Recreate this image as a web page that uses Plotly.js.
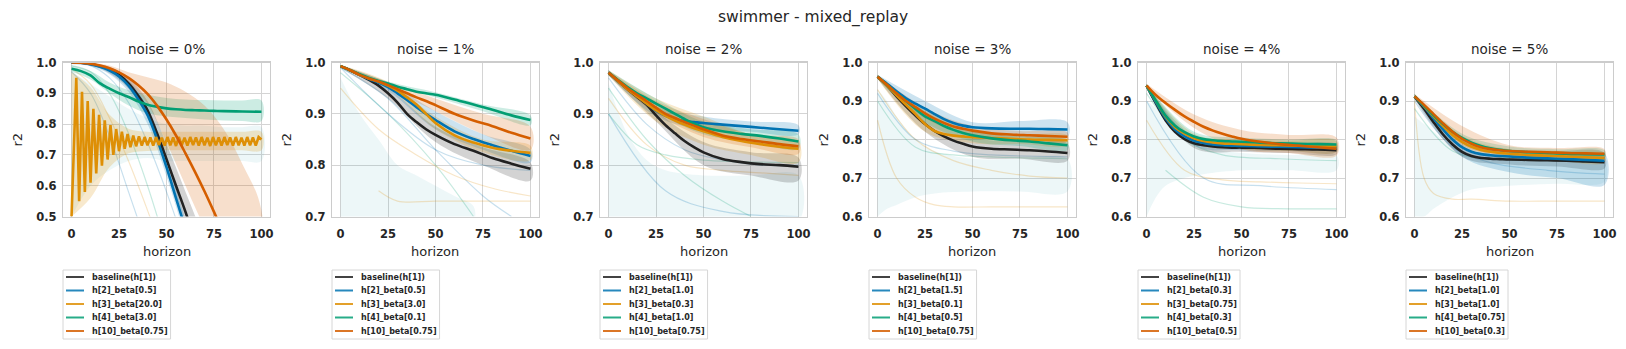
<!DOCTYPE html>
<html>
<head>
<meta charset="utf-8">
<script src="https://cdn.plot.ly/plotly-3.0.1.min.js"></script>
<style>
  html, body { margin: 0; padding: 0; background: #fff; }
  #chart { width: 1626px; height: 349px; }
</style>
</head>
<body>
<div id="chart"></div>
<script>
// swimmer - mixed_replay : r2 against horizon, one panel per noise level

const noiseLevels = [0, 1, 2, 3, 4, 5];
const xTicks = [0, 25, 50, 75, 100];

// ---- noise = 0% ----
const n0_labels = ['baseline(h[1])', 'h[2]_beta[0.5]', 'h[3]_beta[20.0]', 'h[4]_beta[3.0]', 'h[10]_beta[0.75]'];
const n0_x = [0, 5, 10, 15, 20, 25, 30, 35, 40, 45, 50, 55, 60, 65, 70, 75, 80, 90, 100];
const n0_baseline = [1.0, 0.999, 0.995, 0.988, 0.977, 0.96, 0.932, 0.893, 0.845, 0.77, 0.686, 0.6, 0.515, 0.42, 0.32, 0.21, 0.1, -0.15, -0.4];
const n0_h2 = [1.0, 0.999, 0.994, 0.986, 0.974, 0.955, 0.925, 0.882, 0.83, 0.752, 0.66, 0.56, 0.46, 0.36, 0.25, 0.14, 0.03, -0.2, -0.45];
const n0_h4 = [0.98, 0.972, 0.958, 0.932, 0.915, 0.9, 0.888, 0.874, 0.863, 0.856, 0.851, 0.848, 0.846, 0.845, 0.844, 0.843, 0.842, 0.841, 0.84];
const n0_h10 = [1.0, 0.999, 0.996, 0.99, 0.981, 0.968, 0.95, 0.927, 0.898, 0.86, 0.815, 0.763, 0.705, 0.645, 0.582, 0.515, 0.445, 0.3, 0.15];
// h3 oscillates, so it has its own horizon samples
const n0_h3x = [0, 2.5, 4, 5.5, 7, 8.5, 10, 11.5, 13, 14.5, 16, 17.5, 19, 20.5, 22, 23.5, 25, 26.5, 28, 29.5,
  31, 32.5, 34, 35.5, 37, 38.5, 40, 41.5, 43, 44.5, 46, 47.5, 49, 50.5, 52, 53.5, 55, 56.5, 58, 59.5,
  61, 62.5, 64, 65.5, 67, 68.5, 70, 71.5, 73, 74.5, 76, 77.5, 79, 80.5, 82, 83.5, 85, 86.5, 88, 89.5,
  91, 92.5, 94, 95.5, 97, 98.5, 100];
const n0_h3 = [0.50, 0.95, 0.55, 0.905, 0.58, 0.875, 0.61, 0.85, 0.64, 0.83, 0.665, 0.812, 0.685, 0.797, 0.70, 0.784, 0.712, 0.775, 0.72, 0.768,
  0.725, 0.763, 0.728, 0.76, 0.73, 0.758, 0.731, 0.757, 0.73, 0.758, 0.732, 0.756, 0.73, 0.758, 0.731, 0.757, 0.729, 0.758, 0.731, 0.756,
  0.73, 0.758, 0.732, 0.757, 0.73, 0.758, 0.731, 0.756, 0.729, 0.758, 0.731, 0.757, 0.73, 0.758, 0.732, 0.757, 0.73, 0.758, 0.731, 0.756,
  0.73, 0.758, 0.731, 0.757, 0.73, 0.758, 0.75];
const n0_bandX = [0, 10, 20, 30, 40, 50, 60, 70, 80, 90, 100];
const n0_low = [
  [0.995, 0.99, 0.965, 0.915, 0.82, 0.655, 0.48, 0.3, 0.1, -0.1, -0.3],
  [0.995, 0.988, 0.962, 0.905, 0.8, 0.63, 0.43, 0.22, 0.02, -0.2, -0.4],
  [0.5, 0.56, 0.66, 0.705, 0.713, 0.715, 0.715, 0.715, 0.715, 0.715, 0.715],
  [0.97, 0.945, 0.9, 0.86, 0.835, 0.825, 0.82, 0.815, 0.812, 0.81, 0.81],
  [0.998, 0.993, 0.975, 0.935, 0.865, 0.74, 0.6, 0.46, 0.3, 0.1, -0.1]];
const n0_high = [
  [1.0, 0.998, 0.985, 0.95, 0.875, 0.735, 0.58, 0.42, 0.22, 0.0, -0.2],
  [1.0, 0.997, 0.982, 0.942, 0.855, 0.69, 0.49, 0.28, 0.08, -0.15, -0.35],
  [0.97, 0.92, 0.83, 0.785, 0.775, 0.775, 0.775, 0.775, 0.775, 0.775, 0.775],
  [0.99, 0.972, 0.935, 0.91, 0.895, 0.885, 0.88, 0.878, 0.877, 0.877, 0.877],
  [1.0, 0.998, 0.99, 0.968, 0.952, 0.935, 0.905, 0.86, 0.785, 0.67, 0.52]];
const n0_hazeX = [0, 10, 20, 30, 40, 50, 60, 70, 80, 90, 100];
const n0_hazeLo = [0.5, 0.6, 0.65, 0.68, 0.69, 0.68, 0.68, 0.68, 0.68, 0.68, 0.68];
const n0_hazeHi = [0.97, 0.93, 0.89, 0.85, 0.82, 0.8, 0.795, 0.795, 0.79, 0.79, 0.79];
const n0_faintX = [[0, 10, 20, 30, 40, 50, 60], [0, 10, 20, 30, 40, 50], [0, 10, 20, 30, 40, 50], [0, 10, 20, 30, 40]];
const n0_faintY = [[1.0, 0.99, 0.95, 0.87, 0.74, 0.58, 0.4], [0.99, 0.97, 0.9, 0.77, 0.6, 0.4], [0.98, 0.93, 0.82, 0.68, 0.52, 0.35], [0.97, 0.9, 0.76, 0.58, 0.4]];
const n0_faintC = [1, 3, 2, 1];

// ---- noise = 1% ----
const n1_labels = ['baseline(h[1])', 'h[2]_beta[0.5]', 'h[3]_beta[3.0]', 'h[4]_beta[0.1]', 'h[10]_beta[0.75]'];
const n1_x = [0, 5, 10, 15, 20, 25, 30, 35, 40, 45, 50, 60, 70, 80, 90, 100];
const n1_baseline = [0.993, 0.985, 0.976, 0.966, 0.955, 0.94, 0.922, 0.9, 0.884, 0.87, 0.859, 0.841, 0.828, 0.814, 0.803, 0.793];
const n1_h2 = [0.993, 0.985, 0.976, 0.968, 0.961, 0.952, 0.94, 0.927, 0.913, 0.9, 0.888, 0.866, 0.851, 0.839, 0.828, 0.818];
const n1_h3 = [0.993, 0.985, 0.976, 0.969, 0.963, 0.955, 0.945, 0.932, 0.918, 0.9, 0.882, 0.858, 0.844, 0.834, 0.828, 0.824];
const n1_h4 = [0.993, 0.985, 0.977, 0.97, 0.964, 0.959, 0.953, 0.948, 0.943, 0.94, 0.937, 0.928, 0.918, 0.908, 0.897, 0.888];
const n1_h10 = [0.993, 0.985, 0.976, 0.969, 0.963, 0.956, 0.948, 0.94, 0.932, 0.925, 0.917, 0.9, 0.887, 0.876, 0.863, 0.852];
const n1_bandX = [0, 25, 50, 75, 100];
const n1_low = [[0.99, 0.93, 0.845, 0.8, 0.77], [0.99, 0.945, 0.87, 0.83, 0.805], [0.99, 0.95, 0.87, 0.825, 0.81], [0.99, 0.955, 0.932, 0.905, 0.878], [0.99, 0.95, 0.905, 0.86, 0.83]];
const n1_high = [[0.995, 0.95, 0.875, 0.835, 0.805], [0.995, 0.96, 0.905, 0.86, 0.83], [0.995, 0.962, 0.895, 0.85, 0.838], [0.995, 0.963, 0.942, 0.918, 0.897], [0.995, 0.962, 0.93, 0.9, 0.875]];
const n1_hazeX = [0, 10, 20, 30, 40, 50, 60, 70];
const n1_hazeLo = [0.69, 0.69, 0.69, 0.69, 0.69, 0.69, 0.69, 0.69];
const n1_hazeHi = [0.97, 0.9, 0.85, 0.8, 0.78, 0.76, 0.74, 0.72];
const n1_faintX = [[0, 25, 50, 75, 90], [0, 25, 50, 70], [0, 20, 40, 60, 80, 100], [20, 30, 50, 75, 100], [0, 25, 50, 75, 100]];
const n1_faintY = [[0.99, 0.93, 0.83, 0.74, 0.7], [0.98, 0.9, 0.8, 0.7], [0.95, 0.87, 0.82, 0.78, 0.755, 0.74], [0.75, 0.73, 0.73, 0.73, 0.73], [0.99, 0.9, 0.83, 0.8, 0.79]];
const n1_faintC = [1, 3, 2, 2, 1];

// ---- noise = 2% ----
const n2_labels = ['baseline(h[1])', 'h[2]_beta[1.0]', 'h[3]_beta[0.3]', 'h[4]_beta[1.0]', 'h[10]_beta[0.75]'];
const n2_x = [0, 5, 10, 15, 20, 25, 30, 35, 40, 45, 50, 60, 70, 80, 90, 100];
const n2_baseline = [0.98, 0.964, 0.948, 0.933, 0.918, 0.897, 0.878, 0.862, 0.847, 0.835, 0.825, 0.812, 0.806, 0.802, 0.8, 0.797];
const n2_h2 = [0.98, 0.965, 0.95, 0.935, 0.92, 0.906, 0.896, 0.89, 0.886, 0.884, 0.882, 0.879, 0.876, 0.873, 0.87, 0.867];
const n2_h3 = [0.98, 0.964, 0.948, 0.934, 0.92, 0.907, 0.896, 0.887, 0.879, 0.872, 0.866, 0.855, 0.847, 0.841, 0.836, 0.832];
const n2_h4 = [0.98, 0.966, 0.952, 0.94, 0.93, 0.92, 0.91, 0.9, 0.89, 0.881, 0.874, 0.866, 0.861, 0.857, 0.852, 0.846];
const n2_h10 = [0.98, 0.965, 0.95, 0.937, 0.925, 0.912, 0.9, 0.892, 0.884, 0.877, 0.87, 0.858, 0.851, 0.846, 0.841, 0.837];
const n2_bandX = [0, 25, 50, 75, 100];
const n2_low = [[0.975, 0.885, 0.8, 0.78, 0.77], [0.975, 0.895, 0.87, 0.865, 0.86], [0.975, 0.885, 0.84, 0.82, 0.805], [0.975, 0.905, 0.86, 0.845, 0.832], [0.975, 0.9, 0.855, 0.835, 0.822]];
const n2_high = [[0.985, 0.905, 0.845, 0.825, 0.815], [0.985, 0.915, 0.895, 0.885, 0.878], [0.985, 0.93, 0.895, 0.86, 0.845], [0.985, 0.93, 0.885, 0.87, 0.86], [0.985, 0.925, 0.89, 0.86, 0.85]];
const n2_hazeX = [0, 10, 20, 30, 50, 75, 100];
const n2_hazeLo = [0.69, 0.69, 0.69, 0.69, 0.69, 0.69, 0.69];
const n2_hazeHi = [0.96, 0.86, 0.81, 0.79, 0.78, 0.78, 0.78];
const n2_faintX = [[0, 20, 40, 60, 75], [0, 20, 40, 60, 80, 100], [0, 20, 40, 60, 80, 100], [0, 15, 30, 50, 100], [0, 30, 60, 100]];
const n2_faintY = [[0.95, 0.85, 0.78, 0.73, 0.7], [0.97, 0.88, 0.83, 0.81, 0.8, 0.8], [0.93, 0.84, 0.8, 0.79, 0.785, 0.78], [0.9, 0.84, 0.82, 0.81, 0.805], [0.9, 0.75, 0.71, 0.7]];
const n2_faintC = [3, 1, 2, 3, 1];

// ---- noise = 3% ----
const n3_labels = ['baseline(h[1])', 'h[2]_beta[1.5]', 'h[3]_beta[0.1]', 'h[4]_beta[0.5]', 'h[10]_beta[0.75]'];
const n3_x = [0, 5, 10, 15, 20, 25, 30, 35, 40, 45, 50, 60, 70, 80, 90, 100];
const n3_baseline = [0.963, 0.94, 0.912, 0.886, 0.862, 0.84, 0.822, 0.808, 0.797, 0.789, 0.782, 0.776, 0.774, 0.772, 0.769, 0.765];
const n3_h2 = [0.963, 0.945, 0.925, 0.907, 0.893, 0.88, 0.866, 0.853, 0.843, 0.836, 0.832, 0.829, 0.828, 0.828, 0.827, 0.826];
const n3_h3 = [0.963, 0.94, 0.915, 0.89, 0.866, 0.84, 0.822, 0.814, 0.81, 0.808, 0.806, 0.804, 0.802, 0.8, 0.799, 0.798];
const n3_h4 = [0.963, 0.942, 0.92, 0.9, 0.879, 0.86, 0.848, 0.835, 0.825, 0.817, 0.811, 0.803, 0.798, 0.795, 0.79, 0.785];
const n3_h10 = [0.963, 0.942, 0.92, 0.9, 0.884, 0.868, 0.854, 0.843, 0.834, 0.828, 0.823, 0.816, 0.813, 0.811, 0.809, 0.807];
const n3_bandX = [0, 25, 50, 75, 100];
const n3_low = [[0.958, 0.82, 0.755, 0.75, 0.745], [0.958, 0.86, 0.805, 0.805, 0.805], [0.958, 0.82, 0.79, 0.788, 0.785], [0.958, 0.845, 0.795, 0.783, 0.773], [0.958, 0.855, 0.81, 0.8, 0.795]];
const n3_high = [[0.968, 0.86, 0.805, 0.795, 0.79], [0.968, 0.9, 0.845, 0.848, 0.845], [0.968, 0.86, 0.82, 0.812, 0.81], [0.968, 0.875, 0.825, 0.81, 0.797], [0.968, 0.882, 0.835, 0.822, 0.818]];
const n3_hazeX = [0, 5, 10, 20, 30, 50, 75, 100];
const n3_hazeLo = [0.6, 0.62, 0.63, 0.65, 0.66, 0.665, 0.665, 0.665];
const n3_hazeHi = [0.93, 0.9, 0.86, 0.8, 0.77, 0.75, 0.75, 0.75];
const n3_faintX = [[0, 10, 20, 30, 40, 60, 80, 100], [0, 20, 40, 60, 80, 100], [0, 20, 40, 60, 100], [0, 20, 40, 60, 100]];
const n3_faintY = [[0.85, 0.7, 0.65, 0.63, 0.625, 0.625, 0.625, 0.625], [0.93, 0.8, 0.745, 0.72, 0.705, 0.7], [0.92, 0.8, 0.77, 0.76, 0.755], [0.9, 0.78, 0.76, 0.755, 0.75]];
const n3_faintC = [2, 2, 1, 3];

// ---- noise = 4% ----
const n4_labels = ['baseline(h[1])', 'h[2]_beta[0.3]', 'h[3]_beta[0.75]', 'h[4]_beta[0.3]', 'h[10]_beta[0.5]'];
const n4_x = [0, 5, 10, 15, 20, 25, 30, 35, 40, 45, 50, 60, 70, 80, 90, 100];
const n4_baseline = [0.94, 0.893, 0.85, 0.82, 0.801, 0.79, 0.785, 0.782, 0.78, 0.779, 0.779, 0.778, 0.776, 0.775, 0.774, 0.772];
const n4_h2 = [0.94, 0.896, 0.855, 0.826, 0.808, 0.797, 0.791, 0.787, 0.785, 0.784, 0.783, 0.782, 0.781, 0.78, 0.779, 0.778];
const n4_h3 = [0.94, 0.9, 0.86, 0.832, 0.815, 0.803, 0.796, 0.792, 0.79, 0.789, 0.788, 0.786, 0.785, 0.784, 0.783, 0.782];
const n4_h4 = [0.94, 0.9, 0.862, 0.836, 0.819, 0.808, 0.801, 0.798, 0.796, 0.795, 0.794, 0.792, 0.79, 0.789, 0.788, 0.787];
const n4_h10 = [0.94, 0.915, 0.895, 0.877, 0.86, 0.846, 0.833, 0.823, 0.815, 0.808, 0.802, 0.794, 0.788, 0.784, 0.78, 0.776];
const n4_bandX = [0, 25, 50, 75, 100];
const n4_low = [[0.935, 0.778, 0.768, 0.765, 0.762], [0.935, 0.785, 0.772, 0.77, 0.768], [0.935, 0.79, 0.775, 0.77, 0.768], [0.935, 0.795, 0.783, 0.778, 0.775], [0.935, 0.83, 0.775, 0.765, 0.758]];
const n4_high = [[0.945, 0.8, 0.79, 0.786, 0.782], [0.945, 0.808, 0.793, 0.79, 0.788], [0.945, 0.815, 0.8, 0.797, 0.795], [0.945, 0.82, 0.805, 0.8, 0.798], [0.945, 0.865, 0.825, 0.812, 0.805]];
const n4_hazeX = [0, 5, 10, 20, 30, 50, 75, 100];
const n4_hazeLo = [0.6, 0.65, 0.68, 0.7, 0.71, 0.72, 0.72, 0.72];
const n4_hazeHi = [0.9, 0.88, 0.85, 0.8, 0.78, 0.765, 0.76, 0.76];
const n4_faintX = [[0, 20, 40, 60, 80, 100], [10, 30, 50, 75, 100], [0, 30, 60, 100], [0, 20, 40, 70, 100]];
const n4_faintY = [[0.85, 0.72, 0.695, 0.69, 0.687, 0.685], [0.72, 0.65, 0.625, 0.62, 0.62], [0.9, 0.7, 0.68, 0.67], [0.92, 0.8, 0.76, 0.75, 0.745]];
const n4_faintC = [2, 3, 1, 3];

// ---- noise = 5% ----
const n5_labels = ['baseline(h[1])', 'h[2]_beta[1.0]', 'h[3]_beta[1.0]', 'h[4]_beta[0.75]', 'h[10]_beta[0.3]'];
const n5_x = [0, 5, 10, 15, 20, 25, 30, 35, 40, 45, 50, 60, 70, 80, 90, 100];
const n5_baseline = [0.912, 0.88, 0.845, 0.813, 0.787, 0.768, 0.757, 0.752, 0.75, 0.749, 0.748, 0.747, 0.746, 0.745, 0.743, 0.741];
const n5_h2 = [0.912, 0.885, 0.855, 0.826, 0.8, 0.78, 0.768, 0.762, 0.759, 0.757, 0.756, 0.753, 0.751, 0.749, 0.747, 0.745];
const n5_h3 = [0.912, 0.887, 0.86, 0.835, 0.812, 0.794, 0.781, 0.773, 0.768, 0.765, 0.763, 0.76, 0.758, 0.756, 0.754, 0.752];
const n5_h4 = [0.912, 0.888, 0.863, 0.84, 0.82, 0.804, 0.792, 0.783, 0.777, 0.773, 0.77, 0.767, 0.765, 0.763, 0.762, 0.761];
const n5_h10 = [0.912, 0.89, 0.866, 0.842, 0.82, 0.802, 0.789, 0.78, 0.775, 0.772, 0.77, 0.768, 0.767, 0.765, 0.764, 0.763];
const n5_bandX = [0, 25, 50, 75, 100];
const n5_low = [[0.905, 0.755, 0.735, 0.73, 0.725], [0.905, 0.755, 0.715, 0.7, 0.682], [0.905, 0.78, 0.75, 0.745, 0.74], [0.905, 0.79, 0.758, 0.753, 0.75], [0.905, 0.785, 0.758, 0.755, 0.75]];
const n5_high = [[0.918, 0.78, 0.76, 0.758, 0.755], [0.918, 0.8, 0.775, 0.77, 0.765], [0.918, 0.81, 0.775, 0.77, 0.765], [0.918, 0.815, 0.782, 0.775, 0.772], [0.918, 0.835, 0.785, 0.778, 0.775]];
const n5_hazeX = [0, 5, 10, 20, 30, 50, 75, 100];
const n5_hazeLo = [0.6, 0.6, 0.62, 0.65, 0.67, 0.68, 0.685, 0.69];
const n5_hazeHi = [0.86, 0.84, 0.82, 0.78, 0.76, 0.75, 0.745, 0.74];
const n5_faintX = [[0, 5, 10, 20, 30, 50, 75, 100], [0, 20, 40, 70, 100], [0, 20, 40, 70, 100]];
const n5_faintY = [[0.9, 0.7, 0.66, 0.645, 0.645, 0.64, 0.64, 0.64], [0.9, 0.78, 0.74, 0.72, 0.71], [0.88, 0.77, 0.75, 0.745, 0.74]];
const n5_faintC = [2, 1, 3];

const panels = [
  { x: n0_x, h3x: n0_h3x, means: [n0_baseline, n0_h2, n0_h3, n0_h4, n0_h10], bandX: n0_bandX, low: n0_low, high: n0_high,
    hazeX: n0_hazeX, hazeLo: n0_hazeLo, hazeHi: n0_hazeHi, faintX: n0_faintX, faintY: n0_faintY, faintC: n0_faintC, labels: n0_labels },
  { x: n1_x, means: [n1_baseline, n1_h2, n1_h3, n1_h4, n1_h10], bandX: n1_bandX, low: n1_low, high: n1_high,
    hazeX: n1_hazeX, hazeLo: n1_hazeLo, hazeHi: n1_hazeHi, faintX: n1_faintX, faintY: n1_faintY, faintC: n1_faintC, labels: n1_labels },
  { x: n2_x, means: [n2_baseline, n2_h2, n2_h3, n2_h4, n2_h10], bandX: n2_bandX, low: n2_low, high: n2_high,
    hazeX: n2_hazeX, hazeLo: n2_hazeLo, hazeHi: n2_hazeHi, faintX: n2_faintX, faintY: n2_faintY, faintC: n2_faintC, labels: n2_labels },
  { x: n3_x, means: [n3_baseline, n3_h2, n3_h3, n3_h4, n3_h10], bandX: n3_bandX, low: n3_low, high: n3_high,
    hazeX: n3_hazeX, hazeLo: n3_hazeLo, hazeHi: n3_hazeHi, faintX: n3_faintX, faintY: n3_faintY, faintC: n3_faintC, labels: n3_labels },
  { x: n4_x, means: [n4_baseline, n4_h2, n4_h3, n4_h4, n4_h10], bandX: n4_bandX, low: n4_low, high: n4_high,
    hazeX: n4_hazeX, hazeLo: n4_hazeLo, hazeHi: n4_hazeHi, faintX: n4_faintX, faintY: n4_faintY, faintC: n4_faintC, labels: n4_labels },
  { x: n5_x, means: [n5_baseline, n5_h2, n5_h3, n5_h4, n5_h10], bandX: n5_bandX, low: n5_low, high: n5_high,
    hazeX: n5_hazeX, hazeLo: n5_hazeLo, hazeHi: n5_hazeHi, faintX: n5_faintX, faintY: n5_faintY, faintC: n5_faintC, labels: n5_labels }
];

// ---- layout constants (pixels in the 1626x349 figure) ----
const W = 1626, H = 349;
const axLeft = [63, 332, 600, 869, 1138, 1406];
const axWidth = 207, axTop = 62.5, axBottom = 216.5;
const yRanges = [[0.5, 1.0], [0.7, 1.0], [0.7, 1.0], [0.6, 1.0], [0.6, 1.0], [0.6, 1.0]];
const palette = ['#222222', '#0173b2', '#de8f05', '#029e73', '#d55e00'];
const FONT = 'DejaVu Sans';
const TXT = '#262626';

const px = v => v / W;
const py = v => 1 - v / H;
function rgba(hex, a) {
  const n = parseInt(hex.slice(1), 16);
  return `rgba(${(n >> 16) & 255},${(n >> 8) & 255},${n & 255},${a})`;
}
const rev = arr => arr.slice().reverse();

const traces = [];
const shapes = [];
const annotations = [];
const layout = {
  width: W, height: H,
  margin: { l: 0, r: 0, t: 0, b: 0 },
  paper_bgcolor: '#fff', plot_bgcolor: '#fff',
  showlegend: false,
  font: { family: FONT, color: TXT },
  shapes: shapes,
  annotations: annotations
};

annotations.push({
  text: 'swimmer - mixed_replay', xref: 'paper', yref: 'paper', x: 0.5, y: py(17),
  xanchor: 'center', yanchor: 'middle', showarrow: false, font: { family: FONT, size: 15.5, color: TXT }
});

const ctx = document.createElement('canvas').getContext('2d');
ctx.font = 'bold 8px "DejaVu Sans"';

panels.forEach((p, i) => {
  const s = i ? String(i + 1) : '';
  const xa = 'x' + s, ya = 'y' + s;
  const common = { xaxis: xa, yaxis: ya, hoverinfo: 'skip', showlegend: false };

  // faint haze of the other runs
  traces.push(Object.assign({
    x: p.hazeX.concat(rev(p.hazeX)), y: p.hazeLo.concat(rev(p.hazeHi)),
    mode: 'lines', fill: 'toself', fillcolor: 'rgba(60,170,175,0.09)', line: { width: 0, shape: 'spline' }
  }, common));
  p.faintX.forEach((fx, k) => traces.push(Object.assign({
    x: fx, y: p.faintY[k], mode: 'lines', line: { color: rgba(palette[p.faintC[k]], 0.22), width: 1.2, shape: 'spline' }
  }, common)));

  // confidence bands
  p.low.forEach((lo, k) => traces.push(Object.assign({
    x: p.bandX.concat(rev(p.bandX)), y: lo.concat(rev(p.high[k])),
    mode: 'lines', fill: 'toself', fillcolor: rgba(palette[k], 0.2), line: { width: 0, shape: 'spline' }
  }, common)));

  // mean lines
  p.means.forEach((m, k) => {
    const zigzag = (k === 2 && p.h3x);
    traces.push({
      x: zigzag ? p.h3x : p.x, y: m, name: p.labels[k], mode: 'lines',
      line: { color: palette[k], width: 2.6, shape: zigzag ? 'linear' : 'spline' },
      xaxis: xa, yaxis: ya, showlegend: false
    });
  });

  const L = axLeft[i];
  const [y0, y1] = yRanges[i];
  const yTicks = [];
  for (let t = Math.round(y0 * 10); t <= Math.round(y1 * 10); t++) yTicks.push(t / 10);

  layout['xaxis' + s] = {
    domain: [px(L), px(L + axWidth)], anchor: ya, range: [-4.5, 104.5],
    tickvals: xTicks, ticks: '', showgrid: true, gridcolor: '#d4d4d4', gridwidth: 1,
    zeroline: false, showline: true, linecolor: '#cccccc', linewidth: 1.2, mirror: true,
    tickfont: { family: FONT, size: 11.5, color: TXT, weight: 'bold' }, ticklabelstandoff: 6, fixedrange: true
  };
  layout['yaxis' + s] = {
    domain: [1 - axBottom / H, 1 - axTop / H], anchor: xa, range: [y0, y1],
    tickvals: yTicks, tickformat: '.1f', ticks: '', showgrid: true, gridcolor: '#d4d4d4', gridwidth: 1,
    zeroline: false, showline: true, linecolor: '#cccccc', linewidth: 1.2, mirror: true,
    tickfont: { family: FONT, size: 11.5, color: TXT, weight: 'bold' }, ticklabelstandoff: 3, fixedrange: true
  };

  // panel title and axis labels
  annotations.push({
    text: 'noise = ' + noiseLevels[i] + '%', xref: 'paper', yref: 'paper', x: px(L + axWidth / 2), y: py(49),
    xanchor: 'center', yanchor: 'middle', showarrow: false, font: { family: FONT, size: 13.5, color: TXT }
  });
  annotations.push({
    text: 'horizon', xref: 'paper', yref: 'paper', x: px(L + axWidth / 2), y: py(251),
    xanchor: 'center', yanchor: 'middle', showarrow: false, font: { family: FONT, size: 13, color: TXT }
  });
  annotations.push({
    text: 'r2', xref: 'paper', yref: 'paper', x: px(L - 46), y: py((axTop + axBottom) / 2), textangle: -90,
    xanchor: 'center', yanchor: 'middle', showarrow: false, font: { family: FONT, size: 13, color: TXT }
  });

  // legend box below each panel
  const textW = Math.max(...p.labels.map(t => ctx.measureText(t).width));
  const boxW = 27 + textW + 5;
  shapes.push({
    type: 'rect', xref: 'paper', yref: 'paper', x0: px(L), x1: px(L + boxW), y0: py(339), y1: py(270),
    line: { color: '#d6d6d6', width: 1 }, fillcolor: 'rgba(255,255,255,0.8)', layer: 'above'
  });
  p.labels.forEach((lab, k) => {
    const yy = 277 + 13.5 * k;
    shapes.push({
      type: 'line', xref: 'paper', yref: 'paper', x0: px(L + 3), x1: px(L + 21), y0: py(yy), y1: py(yy),
      line: { color: rgba(palette[k], 0.85), width: 2 }, layer: 'above'
    });
    annotations.push({
      text: lab, xref: 'paper', yref: 'paper', x: px(L + 27), y: py(yy), xanchor: 'left', yanchor: 'middle',
      showarrow: false, font: { family: FONT, size: 8, color: TXT, weight: 'bold' }
    });
  });
});

Plotly.newPlot('chart', traces, layout, { displayModeBar: false, staticPlot: true });
</script>
</body>
</html>
